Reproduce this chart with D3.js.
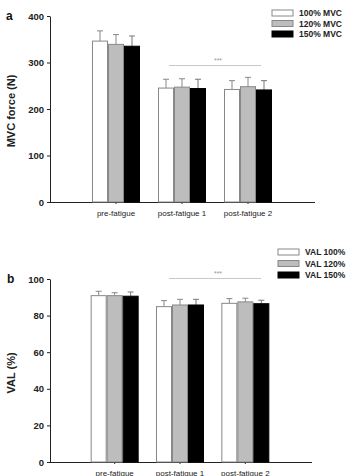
<!DOCTYPE html>
<html>
<head>
<meta charset="utf-8">
<script src="https://cdn.jsdelivr.net/npm/d3@7"></script>
<style>
  body { margin: 0; background: #fff; }
  svg { display: block; font-family: "Liberation Sans", Arial, sans-serif; }
</style>
</head>
<body>
<div id="chart"></div>
<script>
var categories = ["pre-fatigue", "post-fatigue 1", "post-fatigue 2"];
var seriesA = ["100% MVC", "120% MVC", "150% MVC"];
var seriesB = ["VAL 100%", "VAL 120%", "VAL 150%"];
var colors = ["#ffffff", "#bdbdbd", "#000000"];

// MVC force (N): mean and SD per category, one array per series
var mvcMean = [[346, 245, 242], [339, 247, 248], [335, 244, 241]];
var mvcErr  = [[22, 19, 19], [21, 18, 20], [22, 20, 20]];
var yTicksA = [0, 100, 200, 300, 400];

// VAL (%)
var valMean = [[90.9, 84.9, 86.7], [90.9, 85.8, 87.5], [90.6, 85.8, 86.5]];
var valErr  = [[2.4, 3.3, 2.6], [1.6, 3.1, 2.0], [2.3, 3.1, 1.9]];
var yTicksB = [0, 20, 40, 60, 80, 100];

var svg = d3.select("#chart").append("svg")
    .attr("width", 351)
    .attr("height", 476);

function panel(opts) {
  var g = svg.append("g");
  var y = d3.scaleLinear().domain([0, opts.max]).range([opts.y0, opts.y1]);
  var x = d3.scaleBand().domain(categories).range(opts.xr);
  var sub = d3.scaleBand().domain([0, 1, 2]).range([-24, 24]);

  // y axis
  var ya = g.append("g")
      .attr("transform", "translate(50,0)")
      .call(d3.axisLeft(y).tickValues(opts.ticks).tickSize(3).tickSizeOuter(0));
  ya.select(".domain").attr("stroke", "#222");
  ya.selectAll(".tick line").attr("stroke", "#222");
  ya.selectAll(".tick text")
      .attr("font-size", 9.5).attr("font-weight", "bold").attr("fill", "#222")
      .attr("x", -6);

  // x axis line
  g.append("line")
      .attr("x1", 50).attr("x2", opts.xEnd)
      .attr("y1", opts.y0 + 0.5).attr("y2", opts.y0 + 0.5)
      .attr("stroke", "#222");
  var xa = g.append("g")
      .attr("transform", "translate(0," + opts.y0 + ")")
      .call(d3.axisBottom(x).tickSize(2).tickSizeOuter(0));
  xa.select(".domain").remove();
  xa.selectAll(".tick line").attr("stroke", "#222");
  xa.selectAll(".tick text")
      .attr("font-size", 8).attr("fill", "#222").attr("y", 8);

  // bars
  opts.mean.forEach(function(vals, s) {
    vals.forEach(function(v, i) {
      var cx = x(categories[i]) + x.bandwidth() / 2 + sub(s);
      var top = y(v + opts.err[s][i]);
      var ec = s === 2 ? "#777" : "#888";
      g.append("line")
          .attr("x1", cx + 8).attr("x2", cx + 8)
          .attr("y1", y(v)).attr("y2", top)
          .attr("stroke", ec).attr("stroke-width", 1);
      g.append("line")
          .attr("x1", cx + 5).attr("x2", cx + 11)
          .attr("y1", top).attr("y2", top)
          .attr("stroke", ec).attr("stroke-width", 1);
      g.append("rect")
          .attr("x", cx + 0.5).attr("width", sub.bandwidth() - 1)
          .attr("y", y(v)).attr("height", opts.y0 - y(v))
          .attr("fill", colors[s])
          .attr("stroke", s === 2 ? "#000" : "#888");
    });
  });

  // significance
  g.append("line")
      .attr("x1", 169).attr("x2", 261)
      .attr("y1", opts.sigY).attr("y2", opts.sigY)
      .attr("stroke", "#c8c8c8").attr("stroke-width", 1);
  g.append("text")
      .attr("x", 218).attr("y", opts.sigY - 3)
      .attr("text-anchor", "middle")
      .attr("font-size", 7).attr("fill", "#999")
      .text("***");

  // y label
  g.append("text")
      .attr("transform", "translate(" + opts.labelX + "," + opts.labelY + ") rotate(-90)")
      .attr("text-anchor", "middle")
      .attr("font-size", 11).attr("font-weight", "bold").attr("fill", "#222")
      .text(opts.yLabel);

  // panel letter
  g.append("text")
      .attr("x", opts.letterX).attr("y", opts.letterY)
      .attr("font-size", 12).attr("font-weight", "bold").attr("fill", "#111")
      .text(opts.letter);

  // legend
  opts.series.forEach(function(name, s) {
    var ly = opts.legY + s * opts.legStep;
    g.append("rect")
        .attr("x", opts.legX).attr("y", ly - 3)
        .attr("width", 21).attr("height", 6)
        .attr("fill", colors[s]).attr("stroke", s === 2 ? "#000" : "#888");
    g.append("text")
        .attr("x", opts.legX + 27).attr("y", ly + 3)
        .attr("font-size", 8.5).attr("font-weight", "bold").attr("fill", "#222")
        .text(name);
  });
}

panel({
  max: 400, y0: 202, y1: 16, ticks: yTicksA,
  xr: [83, 281], xEnd: 315,
  mean: mvcMean, err: mvcErr,
  sigY: 65.5,
  yLabel: "MVC force (N)", labelX: 15, labelY: 111,
  letter: "a", letterX: 6, letterY: 20,
  series: seriesA, legX: 272, legY: 13, legStep: 10.5
});

panel({
  max: 100, y0: 462, y1: 279, ticks: yTicksB,
  xr: [82, 278], xEnd: 312,
  mean: valMean, err: valErr,
  sigY: 278.5,
  yLabel: "VAL (%)", labelX: 15, labelY: 373,
  letter: "b", letterX: 7, letterY: 283,
  series: seriesB, legX: 278, legY: 252, legStep: 11.5
});
</script>
</body>
</html>
